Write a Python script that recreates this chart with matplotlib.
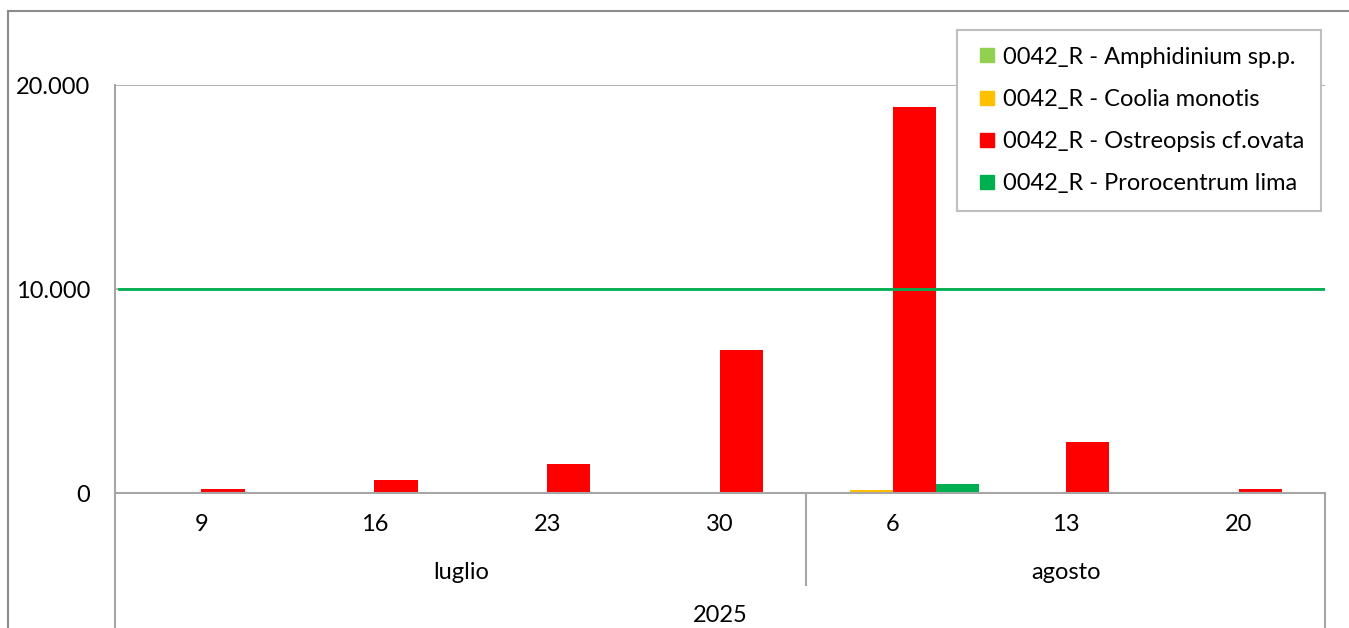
import matplotlib.pyplot as plt
from matplotlib.lines import Line2D
from matplotlib.ticker import FuncFormatter
import numpy as np

plt.rcParams["font.family"] = ["Lato", "DejaVu Sans"]

days = ["9", "16", "23", "30", "6", "13", "20"]
months = ["luglio", "agosto"]
month_spans = [(0, 3), (4, 6)]
year = "2025"

series_names = [
    "0042_R - Amphidinium sp.p.",
    "0042_R - Coolia monotis",
    "0042_R - Ostreopsis cf.ovata",
    "0042_R - Prorocentrum lima",
]
series_colors = ["#92D050", "#FFC000", "#FF0000", "#00B050"]
amphidinium = [0, 0, 0, 0, 0, 0, 0]
coolia = [0, 0, 0, 0, 150, 60, 0]
ostreopsis = [180, 660, 1400, 7000, 18900, 2480, 215]
prorocentrum = [0, 0, 0, 0, 450, 50, 0]
threshold = 10000

series_values = [amphidinium, coolia, ostreopsis, prorocentrum]

fig = plt.figure(figsize=(13.49, 6.28), dpi=100)
ax = fig.add_axes([115 / 1349, 1 - 493 / 628, 1210 / 1349, 408 / 628])

x = np.arange(len(days))
width = 0.25
grey = "#A6A6A6"
fs = 17

for i, (vals, color) in enumerate(zip(series_values, series_colors)):
    ax.bar(x + (i - 1.5) * width, vals, width, color=color, label=series_names[i],
           align="center", zorder=2)

# guideline at the alert threshold
ax.axhline(threshold, color="#00B050", lw=2, zorder=3, xmin=0.003)

ax.set_xlim(-0.5, len(days) - 0.5)
ax.set_ylim(0, 20000)
ax.set_yticks([0, 10000, 20000])
ax.yaxis.set_major_formatter(FuncFormatter(lambda v, p: f"{int(v):,}".replace(",", ".")))
ax.tick_params(axis="y", length=0, pad=18, labelsize=fs)
ax.set_xticks([])
ax.grid(axis="y", color=grey, lw=1.2, zorder=1)

for s in ["top", "right"]:
    ax.spines[s].set_visible(False)
ax.spines["left"].set_color(grey)
ax.spines["bottom"].set_color(grey)
ax.spines["left"].set_linewidth(1.5)
ax.spines["bottom"].set_linewidth(1.5)

tr = ax.get_xaxis_transform()
for xi, d in zip(x, days):
    ax.text(xi, -0.078, d, transform=tr, ha="center", va="center", fontsize=fs)
for (a, b), m in zip(month_spans, months):
    ax.text((a + b) / 2, -0.194, m, transform=tr, ha="center", va="center", fontsize=fs)
ax.text((len(days) - 1) / 2, -0.30, year, transform=tr, ha="center", va="center", fontsize=fs)

# category separators below the axis
ax.add_line(Line2D([-0.5, -0.5], [0, -0.34], transform=tr, color=grey, lw=1.5, clip_on=False))
ax.add_line(Line2D([6.5, 6.5], [0, -0.34], transform=tr, color=grey, lw=1.5, clip_on=False))
ax.add_line(Line2D([3.5, 3.5], [0, -0.225], transform=tr, color=grey, lw=1.5, clip_on=False))

# outer chart frame
fig.add_artist(Line2D([8 / 1349, 8 / 1349], [0, 1 - 11 / 628], transform=fig.transFigure,
                      color="#8C8C8C", lw=1.5))
fig.add_artist(Line2D([8 / 1349, 1], [1 - 11 / 628, 1 - 11 / 628], transform=fig.transFigure,
                      color="#8C8C8C", lw=1.5))

handles = [Line2D([], [], marker="s", ls="", color=c, markersize=10) for c in series_colors]
leg = fig.legend(handles, series_names, loc="upper left",
                 bbox_to_anchor=(957 / 1349, 1 - 30 / 628), borderaxespad=0,
                 fontsize=fs, frameon=True, fancybox=False, edgecolor="#BFBFBF",
                 framealpha=1, handletextpad=0.15, handlelength=1.1,
                 labelspacing=0.9, borderpad=0.7)
leg.get_frame().set_linewidth(1.5)

fig.savefig("out.png", dpi=100, facecolor="white")
